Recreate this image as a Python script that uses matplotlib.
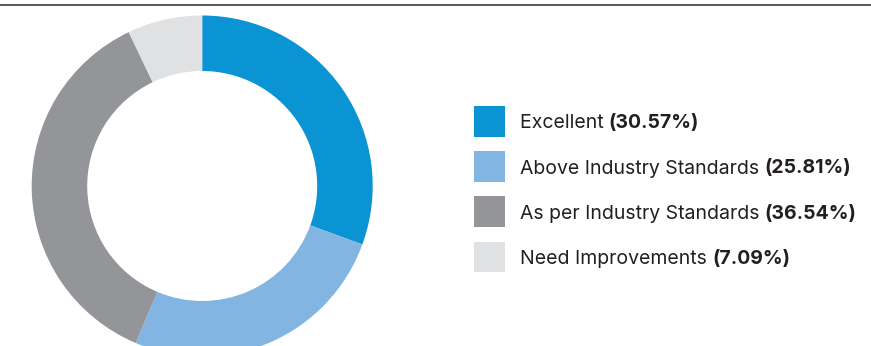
import matplotlib
matplotlib.use('Agg')
import matplotlib.pyplot as plt
from matplotlib.patches import Rectangle
from matplotlib.lines import Line2D

# 数据
labels = ['Excellent', 'Above Industry Standards', 'As per Industry Standards', 'Need Improvements']
values = [30.57, 25.81, 36.54, 7.09]
colors = ['#0a94d3', '#82b5e2', '#939598', '#e0e1e3']

W, H = 871, 346
plt.rcParams['font.family'] = ['Inter', 'DejaVu Sans']
fig = plt.figure(figsize=(W / 100, H / 100), dpi=100)

# 顶部横线
fig.add_artist(Line2D([0, 1], [1 - 5 / H, 1 - 5 / H], color='#4a4a4a', lw=1.3, transform=fig.transFigure))

# 环形图
cx, cy, r = 202.2, 186, 170.5
ax = fig.add_axes([(cx - r) / W, (H - cy - r) / H, 2 * r / W, 2 * r / H])
ax.pie(values, colors=colors, startangle=90, counterclock=False, radius=1,
       wedgeprops=dict(width=1 - 115 / 170.5, linewidth=0))
ax.set_xlim(-1, 1)
ax.set_ylim(-1, 1)
ax.set_aspect('equal')
ax.axis('off')

# 图例
renderer = fig.canvas.get_renderer()
for i, (lab, v, c) in enumerate(zip(labels, values, colors)):
    yc = 121.3 + 45.2 * i
    fig.add_artist(Rectangle((473.5 / W, (H - yc - 15.3) / H), 31.5 / W, 30.6 / H,
                             facecolor=c, edgecolor='none', transform=fig.transFigure))
    t = fig.text(519.5 / W, 1 - yc / H, lab + ' ', fontsize=14, color='#231f20',
                 va='center_baseline', ha='left')
    bb = t.get_window_extent(renderer)
    fig.text(bb.x1 / W, 1 - yc / H, '(%.2f%%)' % v, fontsize=14, color='#231f20',
             fontweight='bold', va='center_baseline', ha='left')

fig.savefig('out.png', dpi=100)
